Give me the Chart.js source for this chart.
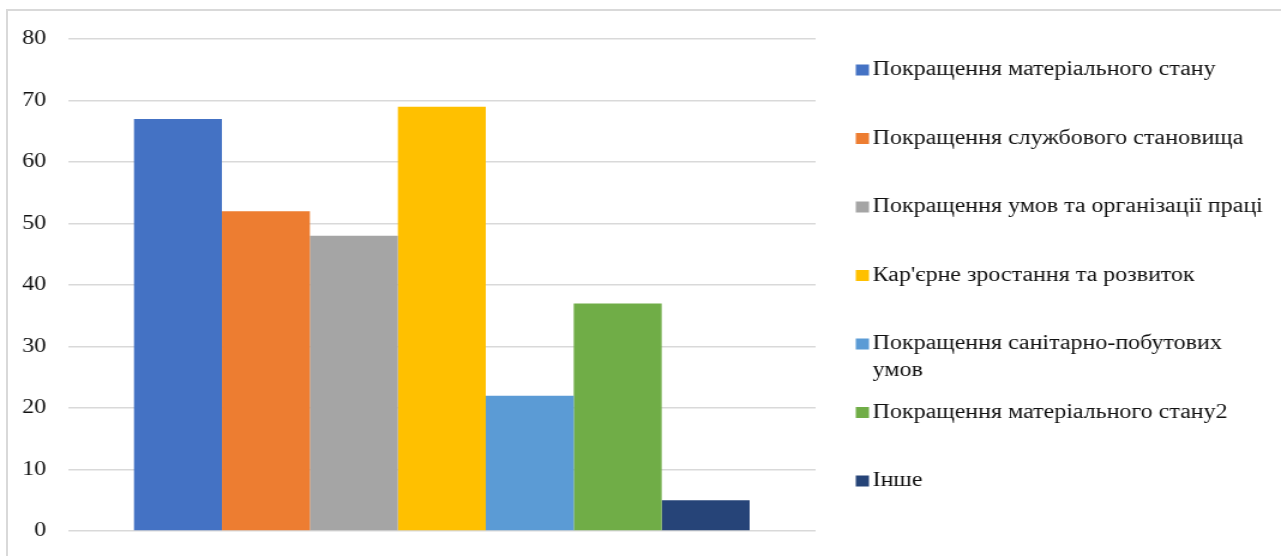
<!DOCTYPE html>
<html>
<head>
<meta charset="utf-8">
<script src="https://cdn.jsdelivr.net/npm/chart.js@4.4.1/dist/chart.umd.min.js"></script>
<style>
  html, body { margin: 0; padding: 0; background: #fff; overflow: hidden; }
  #wrap { position: relative; width: 1281px; height: 556px; overflow: hidden; }
  #frame { position: absolute; left: 6px; top: 9px; width: 1300px; height: 600px;
           border: 2px solid #d9d9d9; box-sizing: border-box; }
  /* the drawing is laid out narrow and widened horizontally */
  #c { position: absolute; left: 0; top: 0; transform-origin: 0 0; transform: scaleX(1.1994); }
</style>
</head>
<body>
<div id="wrap">
  <div id="frame"></div>
  <canvas id="c" width="1068" height="562"></canvas>
</div>
<script>
// Survey answers: one bar per motive
const seriesNames = [
  "Покращення матеріального стану",
  "Покращення службового становища",
  "Покращення умов та організації праці",
  "Кар'єрне зростання та розвиток",
  "Покращення санітарно-побутових умов",
  "Покращення матеріального стану2",
  "Інше"
];
const seriesValues = [67, 52, 48, 69, 22, 37, 5];
const seriesColors = ["#4472C4", "#ED7D31", "#A5A5A5", "#FFC000", "#5B9BD5", "#70AD47", "#264478"];
const categories = [""];
const yTicks = [0, 10, 20, 30, 40, 50, 60, 70, 80];

const FONT = "'Liberation Serif', 'Times New Roman', serif";

// Legend drawn to the right of the plot, one row per series, long names wrapped
const sideLegend = {
  id: 'sideLegend',
  afterDraw(chart) {
    const ctx = chart.ctx;
    const x0 = 713.5, box = 11, textX = 727.5, maxW = 331;
    const firstY = 70, step = 68.5, lineH = 27;
    ctx.save();
    ctx.font = "20px " + FONT;
    ctx.textBaseline = 'middle';
    ctx.textAlign = 'left';
    chart.data.datasets.forEach((ds, i) => {
      const y = firstY + step * i;
      ctx.fillStyle = ds.backgroundColor;
      ctx.fillRect(x0, y - box / 2, box, box);
      const words = ds.label.split(' ');
      const lines = [];
      let cur = '';
      words.forEach(w => {
        const t = cur ? cur + ' ' + w : w;
        if (ctx.measureText(t).width > maxW && cur) { lines.push(cur); cur = w; }
        else cur = t;
      });
      if (cur) lines.push(cur);
      ctx.fillStyle = '#111';
      lines.forEach((ln, k) => ctx.fillText(ln, textX, y + k * lineH));
    });
    ctx.restore();
  }
};

new Chart(document.getElementById('c'), {
  type: 'bar',
  data: {
    labels: categories,
    datasets: seriesNames.map((name, i) => ({
      label: name,
      data: [seriesValues[i]],
      backgroundColor: seriesColors[i],
      borderWidth: 0,
      categoryPercentage: 0.8235,
      barPercentage: 1.0
    }))
  },
  options: {
    responsive: false,
    animation: false,
    devicePixelRatio: 1,
    layout: { autoPadding: false, padding: { left: 0, top: 39, right: 388, bottom: 31 } },
    plugins: { legend: { display: false }, tooltip: { enabled: false } },
    scales: {
      x: { display: false },
      y: {
        min: 0, max: 80,
        afterBuildTicks(scale) { scale.ticks = yTicks.map(v => ({ value: v })); },
        afterFit(scale) { scale.width = 56.7; },
        ticks: {
          padding: 18.3,
          color: '#111',
          font: { family: FONT, size: 20 }
        },
        grid: { color: '#d9d9d9', lineWidth: 1.5, drawTicks: false, tickLength: 0 },
        border: { display: false }
      }
    }
  },
  plugins: [sideLegend]
});
</script>
</body>
</html>
